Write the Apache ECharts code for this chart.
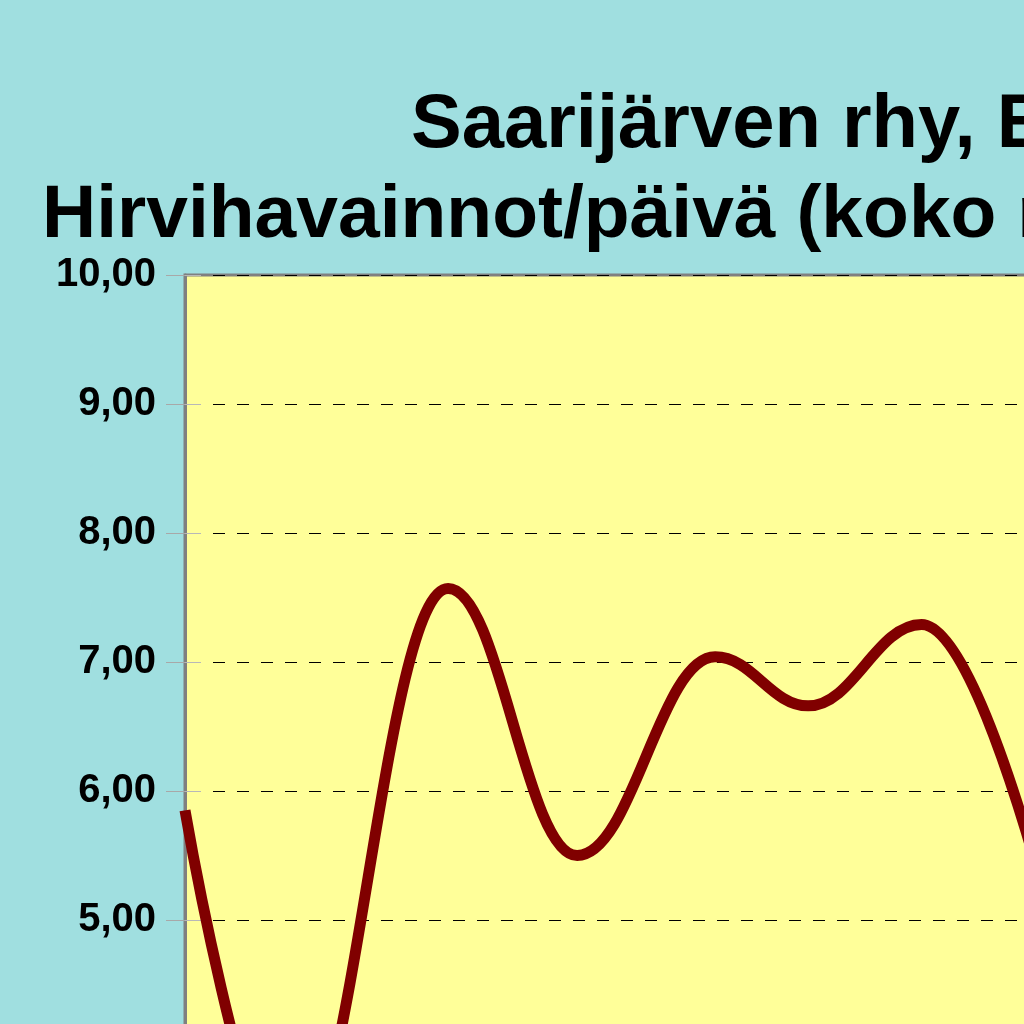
<!DOCTYPE html>
<html>
<head>
<meta charset="utf-8">
<script src="https://cdn.jsdelivr.net/npm/echarts@6/dist/echarts.min.js"></script>
<style>
  html, body { margin: 0; padding: 0; overflow: hidden; background: #A0DFE0; }
  #chart { position: absolute; left: 0; top: 0; width: 1600px; height: 1750px; }
</style>
</head>
<body>
<div id="chart"></div>
<script>
// ---- data ----
const titleLine1 = 'Saarijärven rhy, Etelä';
const titleLine2 = 'Hirvihavainnot/päivä (koko metsästysaika)';
const xPositions = [0, 8.0, 20.4, 30.4, 41.1, 48.3, 57.1, 72.6];
const observationsPerDay = [5.85, 3.10, 7.57, 5.50, 7.04, 6.66, 7.29, 2.70];
const yMin = 0, yMax = 10, yStep = 1;

const seriesData = xPositions.map((x, i) => [x, observationsPerDay[i]]);
const fmt = v => v.toFixed(2).replace('.', ',');

const chart = echarts.init(document.getElementById('chart'), null, { renderer: 'canvas' });
const gridBox = { left: 185, top: 275, width: 1290, height: 1290 };
const baseFont = { fontFamily: 'Liberation Sans, Arial, sans-serif', fontWeight: 'bold', color: '#000' };
chart.setOption({
  animation: false,
  backgroundColor: '#A0DFE0',
  title: [
    { text: titleLine1, left: 411, top: 88, padding: 0,
      textStyle: Object.assign({ fontSize: 76, lineHeight: 76 }, baseFont) },
    { text: titleLine2, left: 42, top: 179, padding: 0,
      textStyle: Object.assign({ fontSize: 75, lineHeight: 75 }, baseFont) }
  ],
  grid: [
    Object.assign({ show: true, backgroundColor: '#FFFF99', borderColor: '#808080', borderWidth: 3 }, gridBox),
    Object.assign({ show: false }, gridBox)
  ],
  xAxis: [
    { type: 'value', gridIndex: 0, min: 0, max: 100,
      axisLine: { show: true, lineStyle: { color: '#808080', width: 3 } },
      axisTick: { show: false }, axisLabel: { show: false }, splitLine: { show: false } },
    { type: 'value', gridIndex: 1, min: 0, max: 100, show: false }
  ],
  yAxis: [
    { type: 'value', gridIndex: 0, min: yMin, max: yMax, interval: yStep,
      axisLine: { show: true, lineStyle: { color: '#808080', width: 3 } },
      axisTick: { show: true, inside: false, length: 19, lineStyle: { color: '#A8A8A8', width: 1 } },
      axisLabel: { margin: 29, formatter: fmt, color: '#000', padding: [12, 0, 0, 0],
        fontFamily: 'Liberation Sans, Arial, sans-serif', fontWeight: 'bold', fontSize: 40 },
      splitLine: { show: true, lineStyle: { color: '#000', width: 1, type: [12, 12], dashOffset: 20 } } },
    { type: 'value', gridIndex: 1, min: yMin, max: yMax, interval: yStep,
      axisLine: { show: false },
      axisTick: { show: true, inside: true, length: 16, lineStyle: { color: '#B8B8B8', width: 1 } },
      axisLabel: { show: false }, splitLine: { show: false } }
  ],
  series: [
    { type: 'line', xAxisIndex: 0, yAxisIndex: 0, data: seriesData,
      smooth: 0.4, smoothMonotone: 'x', showSymbol: false, symbol: 'none', clip: false,
      lineStyle: { color: '#800000', width: 11 }, z: 5 }
  ]
});
</script>
</body>
</html>
